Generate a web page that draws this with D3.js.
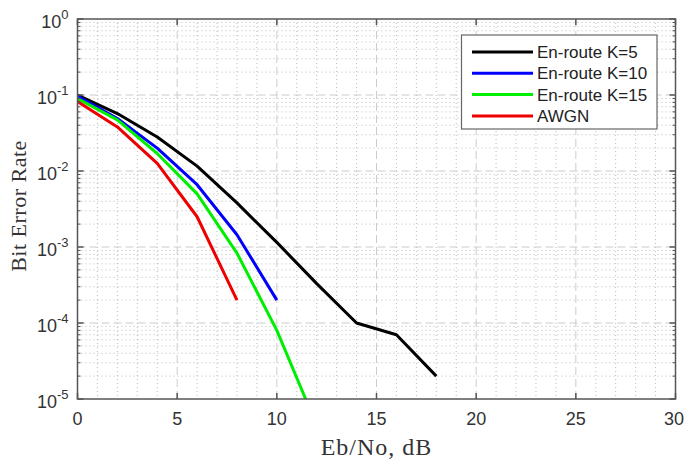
<!DOCTYPE html>
<html><head><meta charset="utf-8">
<script src="https://cdn.jsdelivr.net/npm/d3@7"></script>
<style>body{margin:0;background:#fff}</style>
</head><body>
<svg id="c" width="686" height="461"></svg>
<script>
const xVals = [0,2,4,6,8,10,12,14,16,18];
const k5 = [0.1,0.057,0.028,0.0116,0.0038,0.00115,0.00033,0.0001,0.00007,0.00002];
const k10x = [0,2,4,6,8,10];
const k10 = [0.097,0.049,0.02,0.0066,0.00145,0.0002];
const k15x = [0,2,4,6,8,10,12];
const k15 = [0.09,0.047,0.017,0.005,0.00083,0.00008,0.0000045];
const awgnx = [0,2,4,6,8];
const awgn = [0.082,0.038,0.0126,0.0025,0.0002];
const xTicks = [0,5,10,15,20,25,30];
const yExps = [0,-1,-2,-3,-4,-5];
const seriesNames = ["En-route K=5","En-route K=10","En-route K=15","AWGN"];
const colors = ["#000000","#0000ff","#00ee00","#ee0000"];

const svg = d3.select("#c");
const L=77.5, R=675.5, T=19, B=399;
const x = d3.scaleLinear().domain([0,30]).range([L,R]);
const y = d3.scaleLog().domain([1e-5,1]).range([B,T]);

// minor grid
const g = svg.append("g");
d3.range(0,31).filter(v=>v%5!==0).forEach(v=>{
  g.append("line").attr("x1",x(v)).attr("x2",x(v)).attr("y1",T).attr("y2",B)
   .attr("stroke","#bbb").attr("stroke-width",1).attr("stroke-dasharray","1,3");
});
yExps.slice(1).forEach(e=>{
  for(let m=2;m<=9;m++){
    const v=m*Math.pow(10,e);
    g.append("line").attr("x1",L).attr("x2",R).attr("y1",y(v)).attr("y2",y(v))
     .attr("stroke","#bbb").attr("stroke-width",1).attr("stroke-dasharray","1,3");
  }
});
// major grid
xTicks.slice(1,-1).forEach(v=>{
  g.append("line").attr("x1",x(v)).attr("x2",x(v)).attr("y1",T).attr("y2",B)
   .attr("stroke","#ccc").attr("stroke-width",1).attr("stroke-dasharray","8,4");
});
yExps.slice(1,-1).forEach(e=>{
  const v=Math.pow(10,e);
  g.append("line").attr("x1",L).attr("x2",R).attr("y1",y(v)).attr("y2",y(v))
   .attr("stroke","#ccc").attr("stroke-width",1).attr("stroke-dasharray","8,4");
});

// curves
svg.append("clipPath").attr("id","clip").append("rect").attr("x",L).attr("y",T).attr("width",R-L).attr("height",B-T);
const line = d3.line().x(d=>x(d[0])).y(d=>y(d[1]));
const data = [
  d3.zip(xVals,k5), d3.zip(k10x,k10), d3.zip(k15x,k15), d3.zip(awgnx,awgn)
];
[0,1,2,3].forEach(i=>{
  svg.append("path").datum(data[i]).attr("d",line).attr("fill","none")
    .attr("stroke",colors[i]).attr("stroke-width",3).attr("stroke-linejoin","round")
    .attr("clip-path","url(#clip)");
});

// axes ticks (inward)
const ax = svg.append("g").attr("stroke","#555");
xTicks.forEach(v=>{
  ax.append("line").attr("x1",x(v)).attr("x2",x(v)).attr("y1",B).attr("y2",B-6).attr("stroke-width",1.5);
  ax.append("line").attr("x1",x(v)).attr("x2",x(v)).attr("y1",T).attr("y2",T+6).attr("stroke-width",1.5);
});
yExps.forEach(e=>{
  const v=Math.pow(10,e);
  ax.append("line").attr("x1",L).attr("x2",L+6).attr("y1",y(v)).attr("y2",y(v)).attr("stroke-width",1.5);
  ax.append("line").attr("x1",R).attr("x2",R-6).attr("y1",y(v)).attr("y2",y(v)).attr("stroke-width",1.5);
  if(e>-5) for(let m=2;m<=9;m++){
    const vv=m*Math.pow(10,e-1);
    ax.append("line").attr("x1",L).attr("x2",L+3).attr("y1",y(vv)).attr("y2",y(vv)).attr("stroke-width",1);
    ax.append("line").attr("x1",R).attr("x2",R-3).attr("y1",y(vv)).attr("y2",y(vv)).attr("stroke-width",1);
  }
});
svg.append("rect").attr("x",L).attr("y",T).attr("width",R-L).attr("height",B-T)
  .attr("fill","none").attr("stroke","#555").attr("stroke-width",1.5);

// tick labels
const tf = "'Liberation Sans', Arial, sans-serif";
xTicks.forEach(v=>{
  svg.append("text").attr("x",Math.min(x(v),674)).attr("y",B+26).attr("text-anchor","middle")
    .attr("font-family",tf).attr("font-size",18).attr("fill","#333").text(v);
});
yExps.forEach(e=>{
  const t = svg.append("text").attr("x",L-9).attr("y",y(Math.pow(10,e))+9).attr("text-anchor","end")
    .attr("font-family",tf).attr("font-size",18).attr("fill","#333");
  t.append("tspan").text("10");
  t.append("tspan").attr("dy",-9).attr("font-size",13).text(e);
});

// axis labels
const sf = "'Liberation Serif', 'Times New Roman', serif";
svg.append("text").attr("x",(L+R)/2).attr("y",455).attr("text-anchor","middle")
  .attr("font-family",sf).attr("font-size",24).attr("letter-spacing",1).attr("fill","#333").text("Eb/No, dB");
svg.append("text").attr("transform",`translate(26,206) rotate(-90)`).attr("text-anchor","middle")
  .attr("font-family",sf).attr("font-size",22).attr("letter-spacing",0.5).attr("fill","#333").text("Bit Error Rate");

// legend
const lg = svg.append("g");
lg.append("rect").attr("x",461.5).attr("y",35).attr("width",195.5).attr("height",94)
  .attr("fill","#fff").attr("stroke","#666").attr("stroke-width",1.2);
seriesNames.forEach((n,i)=>{
  const yy = 52+i*21.3;
  lg.append("line").attr("x1",472).attr("x2",533).attr("y1",yy).attr("y2",yy)
    .attr("stroke",colors[i]).attr("stroke-width",3);
  lg.append("text").attr("x",537).attr("y",yy+6).attr("font-family",tf).attr("font-size",17)
    .attr("fill","#222").text(n);
});
</script>
</body></html>
